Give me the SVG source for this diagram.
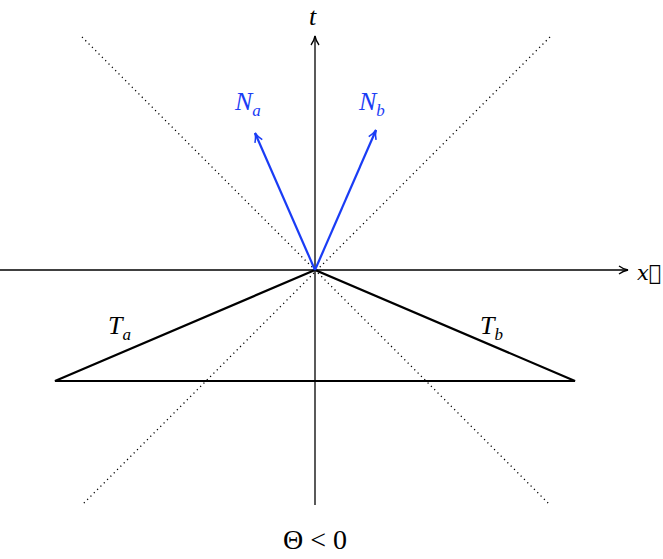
<svg xmlns="http://www.w3.org/2000/svg" width="663" height="559" viewBox="0 0 663 559">
<style>
.lbl{font-family:"Liberation Serif",serif;font-style:italic;font-size:26px}
.sub{font-size:17px}
.dot{stroke:#000;stroke-width:1.3;stroke-dasharray:1.2 3.5}
</style>
<defs>
<marker id="ak" markerWidth="12" markerHeight="10" refX="10" refY="5" orient="auto" markerUnits="userSpaceOnUse"><path d="M1,1 Q5,4 10,5 Q5,6 1,9" fill="none" stroke="#000" stroke-width="1.3"/></marker>
<marker id="ab" markerWidth="12" markerHeight="10" refX="10" refY="5" orient="auto" markerUnits="userSpaceOnUse"><path d="M1,1 Q5,4 10,5 Q5,6 1,9" fill="none" stroke="#1a3cf5" stroke-width="1.6"/></marker>
</defs>
<rect width="663" height="559" fill="#fff"/>
<g id="connectors">
<line class="dot" x1="82" y1="37" x2="550" y2="505"/>
<line class="dot" x1="550" y1="37" x2="82" y2="505"/>
<line x1="0" y1="270" x2="628" y2="270" stroke="#000" stroke-width="1.3" marker-end="url(#ak)"/>
<line x1="315" y1="505" x2="315" y2="36" stroke="#000" stroke-width="1.3" marker-end="url(#ak)"/>
<polygon points="315,270 55,381 575,381" fill="none" stroke="#000" stroke-width="2.2"/>
<line x1="315" y1="270" x2="255" y2="133" stroke="#1a3cf5" stroke-width="2.2" marker-end="url(#ab)"/>
<line x1="315" y1="270" x2="376" y2="130" stroke="#1a3cf5" stroke-width="2.2" marker-end="url(#ab)"/>
</g>
<g id="labels">
<text class="lbl" x="309" y="25">t</text>
<text x="637" y="280" style="font-family:'DejaVu Serif',serif;font-style:italic;font-size:21px">x⃗</text>
<text class="lbl" x="235" y="110" fill="#1a3cf5">N<tspan class="sub" dy="6">a</tspan></text>
<text class="lbl" x="359" y="110" fill="#1a3cf5">N<tspan class="sub" dy="6">b</tspan></text>
<text class="lbl" x="108" y="334">T<tspan class="sub" dy="6">a</tspan></text>
<text class="lbl" x="480" y="334">T<tspan class="sub" dy="6">b</tspan></text>
<text x="315" y="549" text-anchor="middle" style="font-family:'Liberation Serif',serif;font-size:28px">Θ &lt; 0</text>
</g>
</svg>
